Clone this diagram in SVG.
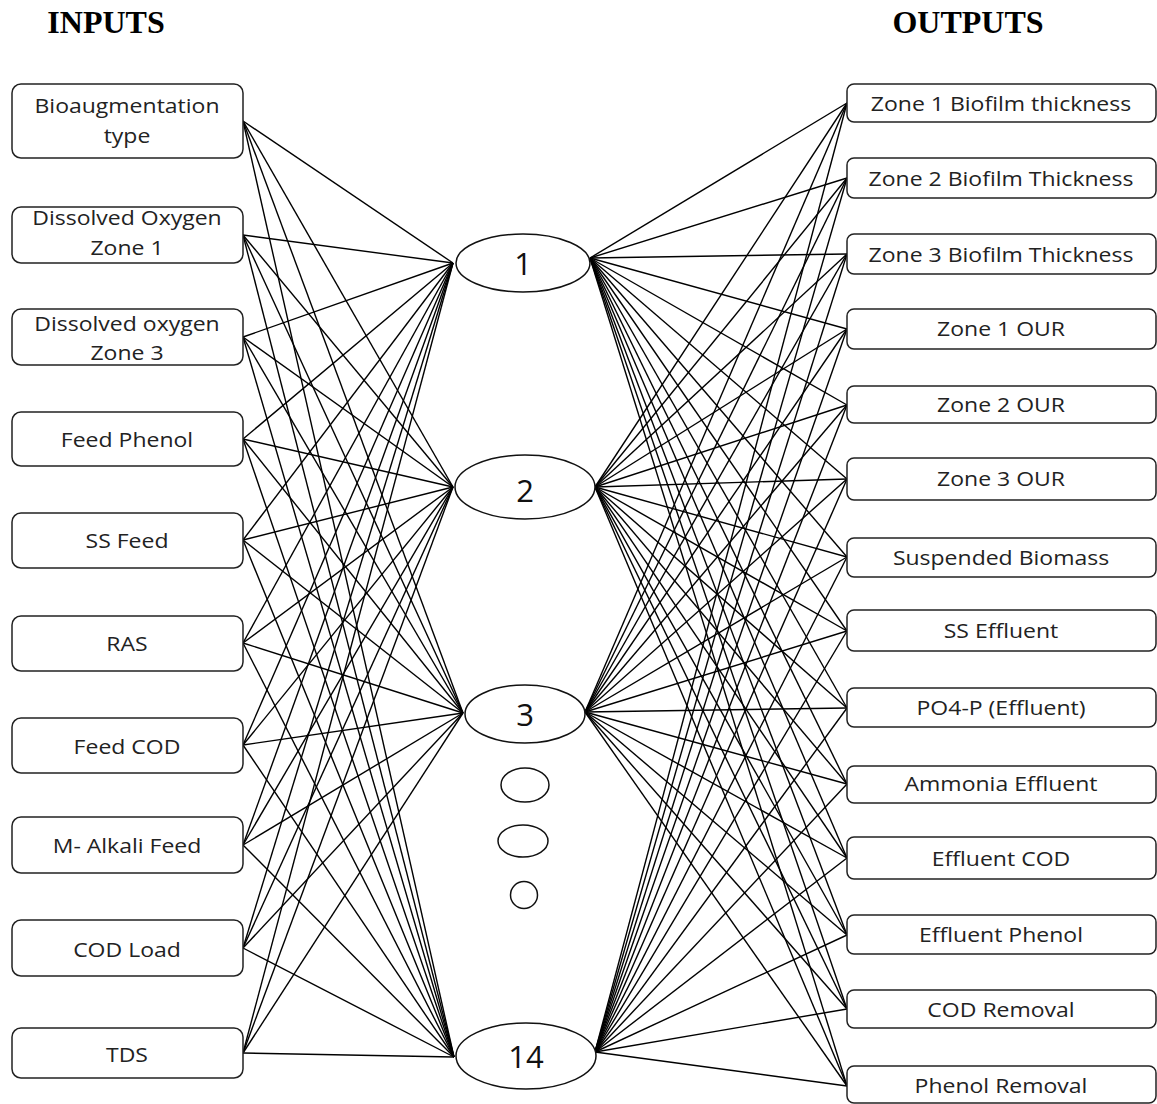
<svg xmlns="http://www.w3.org/2000/svg" width="1157" height="1104" viewBox="0 0 1157 1104">
<style>
.box{fill:#fff;stroke:#222;stroke-width:1.5}
.hid{fill:#fff;stroke:#111;stroke-width:1.5}
.lbl{font-family:"Open Sans","Noto Sans",sans-serif;font-size:20px;fill:#222;text-anchor:middle}
.num{font-family:"Open Sans","Noto Sans",sans-serif;font-size:31px;fill:#111;text-anchor:middle}
.ttl{font-family:"Liberation Serif","Times New Roman",serif;font-size:32px;font-weight:bold;fill:#000;text-anchor:middle}
#connectors line{stroke:#000;stroke-width:1.4}
</style>
<rect width="1157" height="1104" fill="#fff"/>
<text class="ttl" x="106" y="33">INPUTS</text>
<text class="ttl" x="968" y="33">OUTPUTS</text>
<g id="connectors">
<!-- inputs to hidden 1 (453,263) -->
<line x1="243" y1="121" x2="453" y2="263"/><line x1="243" y1="235" x2="453" y2="263"/><line x1="243" y1="337" x2="453" y2="263"/><line x1="243" y1="439" x2="453" y2="263"/><line x1="243" y1="540" x2="453" y2="263"/><line x1="243" y1="643" x2="453" y2="263"/><line x1="243" y1="745" x2="453" y2="263"/><line x1="243" y1="845" x2="453" y2="263"/><line x1="243" y1="948" x2="453" y2="263"/><line x1="243" y1="1053" x2="453" y2="263"/>
<!-- inputs to hidden 2 (453,487) -->
<line x1="243" y1="121" x2="453" y2="487"/><line x1="243" y1="235" x2="453" y2="487"/><line x1="243" y1="337" x2="453" y2="487"/><line x1="243" y1="439" x2="453" y2="487"/><line x1="243" y1="540" x2="453" y2="487"/><line x1="243" y1="643" x2="453" y2="487"/><line x1="243" y1="745" x2="453" y2="487"/><line x1="243" y1="845" x2="453" y2="487"/><line x1="243" y1="948" x2="453" y2="487"/><line x1="243" y1="1053" x2="453" y2="487"/>
<!-- inputs to hidden 3 (463,713) -->
<line x1="243" y1="121" x2="463" y2="713"/><line x1="243" y1="235" x2="463" y2="713"/><line x1="243" y1="337" x2="463" y2="713"/><line x1="243" y1="439" x2="463" y2="713"/><line x1="243" y1="540" x2="463" y2="713"/><line x1="243" y1="643" x2="463" y2="713"/><line x1="243" y1="745" x2="463" y2="713"/><line x1="243" y1="845" x2="463" y2="713"/><line x1="243" y1="948" x2="463" y2="713"/><line x1="243" y1="1053" x2="463" y2="713"/>
<!-- inputs to hidden 14 (454,1057) -->
<line x1="243" y1="121" x2="454" y2="1057"/><line x1="243" y1="235" x2="454" y2="1057"/><line x1="243" y1="337" x2="454" y2="1057"/><line x1="243" y1="439" x2="454" y2="1057"/><line x1="243" y1="540" x2="454" y2="1057"/><line x1="243" y1="643" x2="454" y2="1057"/><line x1="243" y1="745" x2="454" y2="1057"/><line x1="243" y1="845" x2="454" y2="1057"/><line x1="243" y1="948" x2="454" y2="1057"/><line x1="243" y1="1053" x2="454" y2="1057"/>
<!-- hidden 1 (590,258) to outputs -->
<line x1="590" y1="258" x2="847" y2="103"/><line x1="590" y1="258" x2="847" y2="178"/><line x1="590" y1="258" x2="847" y2="254"/><line x1="590" y1="258" x2="847" y2="329"/><line x1="590" y1="258" x2="847" y2="405"/><line x1="590" y1="258" x2="847" y2="479"/><line x1="590" y1="258" x2="847" y2="557"/><line x1="590" y1="258" x2="847" y2="631"/><line x1="590" y1="258" x2="847" y2="708"/><line x1="590" y1="258" x2="847" y2="784"/><line x1="590" y1="258" x2="847" y2="858"/><line x1="590" y1="258" x2="847" y2="935"/><line x1="590" y1="258" x2="847" y2="1009"/><line x1="590" y1="258" x2="847" y2="1086"/>
<!-- hidden 2 (595,487) -->
<line x1="595" y1="487" x2="847" y2="103"/><line x1="595" y1="487" x2="847" y2="178"/><line x1="595" y1="487" x2="847" y2="254"/><line x1="595" y1="487" x2="847" y2="329"/><line x1="595" y1="487" x2="847" y2="405"/><line x1="595" y1="487" x2="847" y2="479"/><line x1="595" y1="487" x2="847" y2="557"/><line x1="595" y1="487" x2="847" y2="631"/><line x1="595" y1="487" x2="847" y2="708"/><line x1="595" y1="487" x2="847" y2="784"/><line x1="595" y1="487" x2="847" y2="858"/><line x1="595" y1="487" x2="847" y2="935"/><line x1="595" y1="487" x2="847" y2="1009"/><line x1="595" y1="487" x2="847" y2="1086"/>
<!-- hidden 3 (585,712) -->
<line x1="585" y1="712" x2="847" y2="103"/><line x1="585" y1="712" x2="847" y2="178"/><line x1="585" y1="712" x2="847" y2="254"/><line x1="585" y1="712" x2="847" y2="329"/><line x1="585" y1="712" x2="847" y2="405"/><line x1="585" y1="712" x2="847" y2="479"/><line x1="585" y1="712" x2="847" y2="557"/><line x1="585" y1="712" x2="847" y2="631"/><line x1="585" y1="712" x2="847" y2="708"/><line x1="585" y1="712" x2="847" y2="784"/><line x1="585" y1="712" x2="847" y2="858"/><line x1="585" y1="712" x2="847" y2="935"/><line x1="585" y1="712" x2="847" y2="1009"/><line x1="585" y1="712" x2="847" y2="1086"/>
<!-- hidden 14 (595,1052) -->
<line x1="595" y1="1052" x2="847" y2="103"/><line x1="595" y1="1052" x2="847" y2="178"/><line x1="595" y1="1052" x2="847" y2="254"/><line x1="595" y1="1052" x2="847" y2="329"/><line x1="595" y1="1052" x2="847" y2="405"/><line x1="595" y1="1052" x2="847" y2="479"/><line x1="595" y1="1052" x2="847" y2="557"/><line x1="595" y1="1052" x2="847" y2="631"/><line x1="595" y1="1052" x2="847" y2="708"/><line x1="595" y1="1052" x2="847" y2="784"/><line x1="595" y1="1052" x2="847" y2="858"/><line x1="595" y1="1052" x2="847" y2="935"/><line x1="595" y1="1052" x2="847" y2="1009"/><line x1="595" y1="1052" x2="847" y2="1086"/>
</g>
<!-- input nodes -->
<g id="in-bioaug"><rect class="box" x="12" y="84" width="231" height="74" rx="9"/><text class="lbl" transform="translate(127 0) scale(1.15 1)" y="113">Bioaugmentation</text><text class="lbl" transform="translate(127 0) scale(1.15 1)" y="143">type</text></g>
<g id="in-do1"><rect class="box" x="12" y="207" width="231" height="56" rx="9"/><text class="lbl" transform="translate(127 0) scale(1.15 1)" y="225">Dissolved Oxygen</text><text class="lbl" transform="translate(127 0) scale(1.15 1)" y="255">Zone 1</text></g>
<g id="in-do3"><rect class="box" x="12" y="309" width="231" height="56" rx="9"/><text class="lbl" transform="translate(127 0) scale(1.15 1)" y="331">Dissolved oxygen</text><text class="lbl" transform="translate(127 0) scale(1.15 1)" y="360">Zone 3</text></g>
<g id="in-feedphenol"><rect class="box" x="12" y="412" width="231" height="54" rx="9"/><text class="lbl" transform="translate(127 0) scale(1.15 1)" y="447">Feed Phenol</text></g>
<g id="in-ssfeed"><rect class="box" x="12" y="513" width="231" height="55" rx="9"/><text class="lbl" transform="translate(127 0) scale(1.15 1)" y="548">SS Feed</text></g>
<g id="in-ras"><rect class="box" x="12" y="616" width="231" height="55" rx="9"/><text class="lbl" transform="translate(127 0) scale(1.15 1)" y="651">RAS</text></g>
<g id="in-feedcod"><rect class="box" x="12" y="718" width="231" height="55" rx="9"/><text class="lbl" transform="translate(127 0) scale(1.15 1)" y="754">Feed COD</text></g>
<g id="in-alkali"><rect class="box" x="12" y="817" width="231" height="56" rx="9"/><text class="lbl" transform="translate(127 0) scale(1.15 1)" y="853">M- Alkali Feed</text></g>
<g id="in-codload"><rect class="box" x="12" y="920" width="231" height="56" rx="9"/><text class="lbl" transform="translate(127 0) scale(1.15 1)" y="957">COD Load</text></g>
<g id="in-tds"><rect class="box" x="12" y="1028" width="231" height="50" rx="9"/><text class="lbl" transform="translate(127 0) scale(1.15 1)" y="1062">TDS</text></g>
<!-- hidden nodes -->
<g id="h1"><ellipse class="hid" cx="523" cy="263" rx="67" ry="29"/><text class="num" x="523" y="275">1</text></g>
<g id="h2"><ellipse class="hid" cx="525" cy="487" rx="70" ry="32"/><text class="num" x="525" y="502">2</text></g>
<g id="h3"><ellipse class="hid" cx="525" cy="714" rx="60" ry="29"/><text class="num" x="525" y="726">3</text></g>
<g id="h-dot1"><ellipse class="hid" cx="525" cy="785" rx="24" ry="17"/></g>
<g id="h-dot2"><ellipse class="hid" cx="523" cy="841" rx="25" ry="16"/></g>
<g id="h-dot3"><circle class="hid" cx="524" cy="895" r="13.5"/></g>
<g id="h14"><ellipse class="hid" cx="526" cy="1056" rx="70" ry="33"/><text class="num" x="526" y="1068">14</text></g>
<!-- output nodes -->
<g id="out-z1bio"><rect class="box" x="847" y="84" width="309" height="38" rx="7"/><text class="lbl" transform="translate(1001 0) scale(1.15 1)" y="111">Zone 1 Biofilm thickness</text></g>
<g id="out-z2bio"><rect class="box" x="847" y="158" width="309" height="40" rx="7"/><text class="lbl" transform="translate(1001 0) scale(1.15 1)" y="186">Zone 2 Biofilm Thickness</text></g>
<g id="out-z3bio"><rect class="box" x="847" y="234" width="309" height="40" rx="7"/><text class="lbl" transform="translate(1001 0) scale(1.15 1)" y="262">Zone 3 Biofilm Thickness</text></g>
<g id="out-z1our"><rect class="box" x="847" y="309" width="309" height="40" rx="7"/><text class="lbl" transform="translate(1001 0) scale(1.15 1)" y="336">Zone 1 OUR</text></g>
<g id="out-z2our"><rect class="box" x="847" y="386" width="309" height="37" rx="7"/><text class="lbl" transform="translate(1001 0) scale(1.15 1)" y="412">Zone 2 OUR</text></g>
<g id="out-z3our"><rect class="box" x="847" y="458" width="309" height="42" rx="7"/><text class="lbl" transform="translate(1001 0) scale(1.15 1)" y="486">Zone 3 OUR</text></g>
<g id="out-susp"><rect class="box" x="847" y="538" width="309" height="39" rx="7"/><text class="lbl" transform="translate(1001 0) scale(1.15 1)" y="565">Suspended Biomass</text></g>
<g id="out-sseff"><rect class="box" x="847" y="610" width="309" height="41" rx="7"/><text class="lbl" transform="translate(1001 0) scale(1.15 1)" y="638">SS Effluent</text></g>
<g id="out-po4"><rect class="box" x="847" y="688" width="309" height="39" rx="7"/><text class="lbl" transform="translate(1001 0) scale(1.15 1)" y="715">PO4-P (Effluent)</text></g>
<g id="out-nh3"><rect class="box" x="847" y="766" width="309" height="37" rx="7"/><text class="lbl" transform="translate(1001 0) scale(1.15 1)" y="791">Ammonia Effluent</text></g>
<g id="out-effcod"><rect class="box" x="847" y="837" width="309" height="42" rx="7"/><text class="lbl" transform="translate(1001 0) scale(1.15 1)" y="866">Effluent COD</text></g>
<g id="out-effphenol"><rect class="box" x="847" y="915" width="309" height="39" rx="7"/><text class="lbl" transform="translate(1001 0) scale(1.15 1)" y="942">Effluent Phenol</text></g>
<g id="out-codrem"><rect class="box" x="847" y="990" width="309" height="38" rx="7"/><text class="lbl" transform="translate(1001 0) scale(1.15 1)" y="1017">COD Removal</text></g>
<g id="out-phenolrem"><rect class="box" x="847" y="1066" width="309" height="37" rx="7"/><text class="lbl" transform="translate(1001 0) scale(1.15 1)" y="1093">Phenol Removal</text></g>
</svg>
